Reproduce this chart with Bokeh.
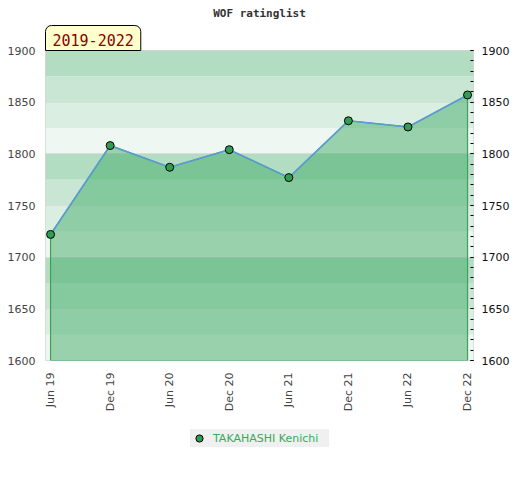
from bokeh.plotting import figure
from bokeh.layouts import column
from bokeh.models import (Range1d, LinearAxis, FixedTicker, SingleIntervalTicker,
                          BoxAnnotation, Title, Legend, LegendItem)
from bokeh.embed import file_html
from bokeh.resources import INLINE
from math import pi

# ---- data ----
periods = ["Jun 19", "Dec 19", "Jun 20", "Dec 20", "Jun 21", "Dec 21", "Jun 22", "Dec 22"]
ratings = [1722, 1808, 1787, 1804, 1777, 1832, 1826, 1857]
player = "TAKAHASHI Kenichi"
title_text = "WOF ratinglist"
badge_text = "2019-2022"
y_min, y_max = 1600, 1900
band_step = 25
band_colors = ["#eef7f1", "#dbeee2", "#c9e6d4", "#b3ddc3"]

xs = list(range(len(periods)))

MARKER = dict(marker="circle", size=8, fill_color="#2f9e53", line_color="black", line_width=1)

p = figure(width=512, height=414, output_backend="svg", toolbar_location=None,
           x_range=Range1d(-0.085, len(periods) - 1 + 0.1),
           y_range=Range1d(y_min, y_max),
           min_border_left=45, min_border_right=37, min_border_top=50,
           min_border_bottom=54)
p.background_fill_color = "white"
p.border_fill_color = "white"
p.outline_line_color = "#d6d6d6"
p.outline_line_width = 1

# badge (nearest the frame) and title
badge = Title(text=badge_text, align="left", offset=0, standoff=0,
              text_font="DejaVu Sans Mono", text_font_size="15px",
              text_font_style="normal", text_color="#8b0000",
              background_fill_color="#ffffcc", background_fill_alpha=1.0,
              border_line_color="black", border_line_width=1,
              padding=dict(left=7, right=7, top=8, bottom=5),
              border_radius=dict(top_left=6, top_right=6, bottom_right=0, bottom_left=0))
p.add_layout(badge, "above")

p.title.text = title_text
p.title.align = "center"
p.title.text_font = "DejaVu Sans Mono"
p.title.text_font_style = "bold"
p.title.text_font_size = "11px"
p.title.text_color = "#333333"
p.title.standoff = 7

# bands
for i, lo in enumerate(range(y_min, y_max, band_step)):
    p.add_layout(BoxAnnotation(bottom=lo, top=lo + band_step,
                               fill_color=band_colors[i % 4], fill_alpha=1.0,
                               line_color=None, level="image"))

# grid
p.xgrid.visible = False
p.ygrid.grid_line_color = "#dcdcdc"
p.ygrid.grid_line_width = 1
p.ygrid.ticker = SingleIntervalTicker(interval=50)

# area
area_x = xs + [xs[-1], xs[0]]
area_y = ratings + [y_min, y_min]
p.patch(area_x, area_y, fill_color="#41ab67", fill_alpha=0.5,
        line_color="#3aa35a", line_width=1.2)
p.line(xs, ratings, line_color="#5b9bd5", line_width=1.6)
p.scatter(xs, ratings, **MARKER)

# axes
la = p.yaxis[0]
la.ticker = SingleIntervalTicker(interval=50, num_minor_ticks=5)
la.axis_line_color = None
la.major_tick_out = 0
la.major_tick_in = 0
la.minor_tick_out = 0
la.minor_tick_in = 0
la.major_tick_line_color = None
la.minor_tick_line_color = None
la.major_label_standoff = 10
la.major_label_text_font = "DejaVu Sans"
la.major_label_text_font_size = "11px"
la.major_label_text_color = "#444444"

ra = LinearAxis(ticker=SingleIntervalTicker(interval=50, num_minor_ticks=5))
ra.axis_line_color = None
ra.major_tick_in = 3
ra.major_tick_out = 0
ra.minor_tick_in = 3
ra.minor_tick_out = 0
ra.major_tick_line_color = "black"
ra.minor_tick_line_color = "black"
ra.major_label_standoff = 8
ra.major_label_text_font = "DejaVu Sans"
ra.major_label_text_font_size = "11px"
ra.major_label_text_color = "#111111"
p.add_layout(ra, "right")

xa = p.xaxis[0]
xa.ticker = FixedTicker(ticks=xs)
xa.major_label_overrides = {i: lab for i, lab in zip(xs, periods)}
xa.major_label_orientation = pi / 2
xa.axis_line_color = None
xa.major_tick_out = 0
xa.major_tick_in = 0
xa.minor_tick_out = 0
xa.minor_tick_in = 0
xa.major_tick_line_color = None
xa.minor_tick_line_color = None
xa.major_label_standoff = 12
xa.major_label_text_font = "DejaVu Sans"
xa.major_label_text_font_size = "11px"
xa.major_label_text_color = "#444444"

# legend in a strip below the chart (its key renderer's points fall outside this strip's ranges)
p2 = figure(width=512, height=66, output_backend="svg", toolbar_location=None,
            x_range=Range1d(-100, -99), y_range=Range1d(0, 1),
            min_border=0)
p2.axis.visible = False
p2.grid.visible = False
p2.outline_line_color = None
p2.background_fill_color = "white"
p2.border_fill_color = "white"
key = p2.scatter(xs, ratings, **MARKER)
legend = Legend(items=[LegendItem(label=player, renderers=[key])],
                location=(145, 33), orientation="horizontal",
                background_fill_color="#f0f0f0", background_fill_alpha=1.0,
                border_line_color=None, padding=1, margin=0,
                glyph_width=18, glyph_height=18, label_height=18,
                label_width=116, label_standoff=5,
                label_text_font="DejaVu Sans", label_text_font_size="11px",
                label_text_color="#3aa85a")
p2.add_layout(legend, "center")

open("out.html", "w").write(file_html(column(p, p2, spacing=0), INLINE))
